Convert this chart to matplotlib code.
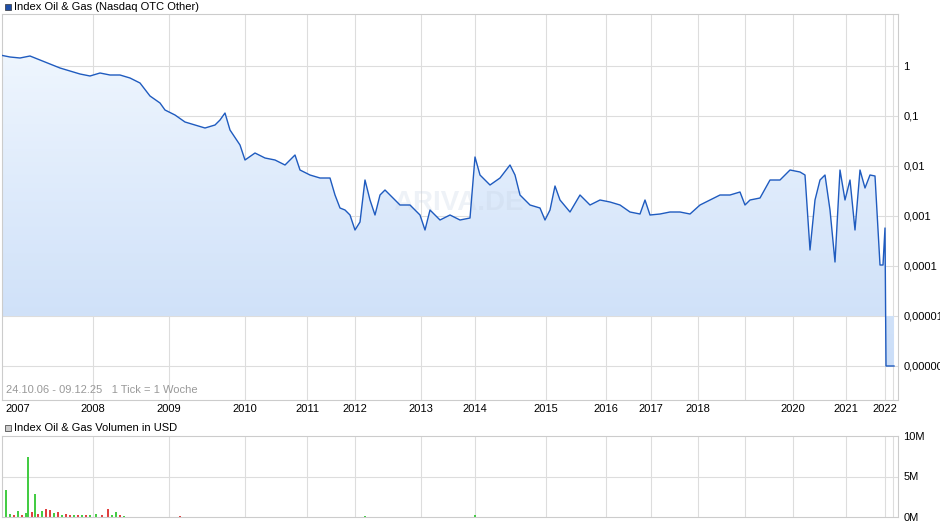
import matplotlib.pyplot as plt
import numpy as np
from matplotlib.patches import Polygon

plt.rcParams['font.family'] = ['Liberation Sans Narrow', 'Liberation Sans', 'DejaVu Sans']

# price series: x in week-index units (chart px), y as log10 of price
px = [0, 10, 20, 30, 40, 50, 60, 70, 80, 90, 100, 110, 120, 130, 140, 150, 160, 165, 175, 185,
      195, 205, 215, 220, 225, 230, 240, 245, 255, 265, 275, 285, 295, 300, 310, 320, 330, 335,
      340, 345, 350, 355, 360, 365, 370, 375, 380, 385, 395, 400, 410, 420, 425, 430, 440, 450,
      460, 470, 475, 480, 490, 500, 510, 515, 520, 530, 540, 545, 550, 555, 560, 570, 580, 590,
      600, 610, 620, 630, 640, 645, 650, 660, 670, 680, 690, 700, 710, 720, 730, 740, 745, 750,
      760, 770, 780, 790, 800, 805, 810, 815, 820, 825, 830, 835, 840, 845, 850, 855, 860, 865,
      870, 875, 880, 883, 885, 886, 894]
py = [55, 57, 58, 56, 60, 64, 68, 71, 74, 76, 73, 75, 75, 78, 83, 96, 103, 110, 115, 122,
      125, 128, 125, 120, 113, 130, 145, 160, 153, 158, 160, 165, 155, 170, 175, 178, 178, 195,
      208, 210, 215, 230, 222, 180, 200, 215, 195, 190, 200, 205, 205, 215, 230, 210, 220, 215,
      220, 218, 157, 175, 185, 178, 165, 175, 195, 205, 208, 220, 210, 186, 200, 212, 195, 205,
      200, 202, 205, 212, 214, 200, 215, 214, 212, 212, 214, 205, 200, 195, 195, 192, 205, 200,
      198, 180, 180, 170, 172, 175, 250, 200, 180, 175, 210, 262, 170, 200, 180, 230, 170, 188,
      175, 176, 265, 265, 228, 366, 366]
price = [10 ** ((66 - v) / 50) for v in py]

# volume (USD)
vol_x = [2, 6, 10, 14, 18, 22, 26, 28, 32, 35, 38, 42, 46, 50, 54, 58, 62, 66, 70, 74, 78,
         82, 86, 90, 96, 102, 108, 112, 116, 120, 124, 180, 365, 475]
vol_v = [1.0, 3.3, 0.4, 0.2, 0.8, 0.3, 0.5, 7.4, 0.6, 2.8, 0.4, 0.7, 1.0, 0.9, 0.5, 0.6, 0.3,
         0.4, 0.3, 0.2, 0.3, 0.2, 0.3, 0.2, 0.4, 0.3, 1.0, 0.3, 0.6, 0.2, 0.1, 0.15, 0.1, 0.3]
vol_up = [0, 1, 1, 0, 1, 0, 1, 1, 0, 1, 0, 1, 0, 0, 1, 0, 1, 0, 0, 1, 0, 1, 0, 1, 1, 0, 0, 1,
          1, 0, 1, 0, 1, 1]

year_labels = ['2007', '2008', '2009', '2010', '2011', '2012', '2013', '2014', '2015', '2016',
               '2017', '2018', '2020', '2021', '2022']
year_pos = [18, 93, 169, 245, 307, 355, 421, 475, 546, 606, 651, 698, 793, 846, 885]
grid_x = [93, 169, 245, 307, 355, 421, 475, 546, 606, 651, 698, 745, 793, 846, 885, 893]
ytick_vals = [1, 0.1, 0.01, 0.001, 0.0001, 0.00001, 0.000001]
ytick_labels = ['1', '0,1', '0,01', '0,001', '0,0001', '0,00001', '0,000001']

W, H = 940, 526
fig = plt.figure(figsize=(W / 100, H / 100), dpi=100)
X0, X1 = 2, 898
gridc = '#dddddd'

ax = fig.add_axes([X0 / W, 1 - 400 / H, (X1 - X0) / W, (400 - 14) / H])
ax.set_yscale('log')
ax.set_xlim(X0, X1)
ax.set_ylim(10 ** -6.68, 10 ** 1.04)
for x in grid_x:
    ax.axvline(x, color=gridc, lw=0.8, zorder=0)
for v in ytick_vals:
    ax.axhline(v, color=gridc, lw=0.8, zorder=0)

# gradient fill between price and 1e-5 baseline
base = 1e-5
verts = list(zip(px, price)) + [(px[-1], base), (px[0], base)]
poly = Polygon(verts, closed=True, transform=ax.transData, facecolor='none', edgecolor='none')
ax.add_patch(poly)
grad = np.linspace(0, 1, 256).reshape(-1, 1)
c_top = np.array([0.96, 0.98, 1.0])
c_bot = np.array([0.78, 0.86, 0.97])
img = c_top + (c_bot - c_top) * grad[:, :, None] ** 0.9
img = img * np.ones((1, 2, 1))
im = ax.imshow(img, extent=[0, 1, 0, 1], transform=ax.transAxes, aspect='auto', zorder=1,
               origin='upper')
im.set_clip_path(poly)
ax.plot(px, price, color='#1f5bbf', lw=1.0, zorder=3)

ax.set_yticks(ytick_vals)
ax.set_yticklabels(ytick_labels)
ax.yaxis.tick_right()
ax.tick_params(axis='y', length=0, labelsize=8, pad=4)
ax.minorticks_off()
ax.set_xticks(year_pos)
ax.set_xticklabels(year_labels)
ax.tick_params(axis='x', length=0, labelsize=8, pad=3)
for s in ax.spines.values():
    s.set_color('#cccccc')
ax.text(6, 10 ** -6.55, '24.10.06 - 09.12.25   1 Tick = 1 Woche', fontsize=8, color='#999999')
ax.text(0.51, 0.51, 'ARIVA.DE', transform=ax.transAxes, fontsize=20, color='#c8d4e6',
        alpha=0.3, ha='center', va='center', fontweight='bold', zorder=2)

fig.patches.append(plt.Rectangle((5 / W, 1 - 10 / H), 6 / W, 6 / H, transform=fig.transFigure,
                                 facecolor='#1f4fa8', edgecolor='#333333', lw=0.5))
fig.text(14 / W, 1 - 7 / H, 'Index Oil & Gas (Nasdaq OTC Other)', fontsize=8, va='center')
fig.patches.append(plt.Rectangle((5 / W, 1 - 431 / H), 6 / W, 6 / H, transform=fig.transFigure,
                                 facecolor='#cccccc', edgecolor='#333333', lw=0.5))
fig.text(14 / W, 1 - 428 / H, 'Index Oil & Gas Volumen in USD', fontsize=8, va='center')

axv = fig.add_axes([X0 / W, 1 - 517 / H, (X1 - X0) / W, (517 - 436) / H])
axv.set_xlim(X0, X1)
axv.set_ylim(0, 10)
for x in grid_x:
    axv.axvline(x, color=gridc, lw=0.8, zorder=0)
axv.axhline(5, color=gridc, lw=0.8, zorder=0)
colors = ['#44cc44' if u else '#e04040' for u in vol_up]
axv.bar(vol_x, vol_v, width=1.2, color=colors, zorder=2)
axv.set_xticks([])
axv.set_yticks([0, 5, 10])
axv.set_yticklabels(['0M', '5M', '10M'])
axv.yaxis.tick_right()
axv.tick_params(axis='y', length=0, labelsize=8, pad=4)
for s in axv.spines.values():
    s.set_color('#cccccc')

fig.savefig('out.png', dpi=100)
